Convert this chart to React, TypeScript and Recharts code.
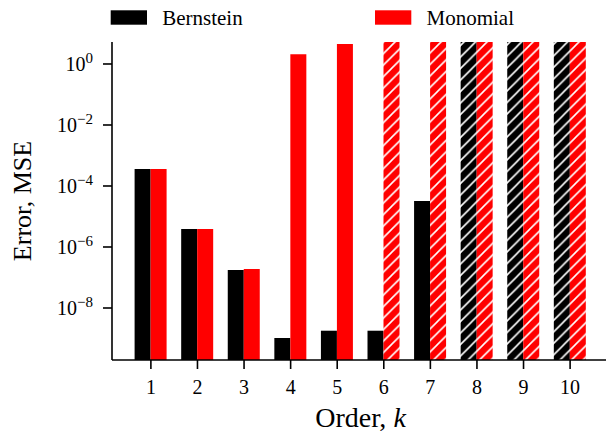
import React from 'react';
import { BarChart, Bar, XAxis, YAxis, Cell, Legend } from 'recharts';

// polynomial order k
const orders = ['1', '2', '3', '4', '5', '6', '7', '8', '9', '10'];
// MSE per basis; values above the top of the plot are drawn hatched (off scale)
const bernsteinMse = [3.6e-4, 3.9e-6, 1.76e-7, 1.04e-9, 1.8e-9, 1.8e-9, 3.2e-5, 1e2, 1e2, 1e2];
const monomialMse = [3.6e-4, 3.9e-6, 1.9e-7, 2.1, 4.5, 1e2, 1e2, 1e2, 1e2, 1e2];
const yTicks = [1, 1e-2, 1e-4, 1e-6, 1e-8];

const yMin = Math.pow(10, -9.705);
const yMax = Math.pow(10, 0.721);

const data = orders.map((k, i) => ({ k, bernstein: bernsteinMse[i], monomial: monomialMse[i] }));

const FONT = '"Liberation Serif", "Times New Roman", serif';

function YTick({ x, y, payload }: any) {
  const exp = Math.round(Math.log10(payload.value));
  const sup = exp < 0 ? '\u2212' + Math.abs(exp) : String(exp);
  return (
    <text x={x} y={y} dx={-8} dy={7.5} textAnchor="end" fontSize={20} fill="#000" fontFamily={FONT}>
      10<tspan dy={-8} fontSize={15}>{sup}</tspan>
    </text>
  );
}

function XTick({ x, y, payload }: any) {
  return (
    <text x={x} y={y} dy={23} textAnchor="middle" fontSize={20} fill="#000" fontFamily={FONT}>
      {payload.value}
    </text>
  );
}

function XLabel({ viewBox }: any) {
  return (
    <text x={viewBox.x + viewBox.width / 2} y={viewBox.y + 67} textAnchor="middle" fontSize={28} fill="#000" fontFamily={FONT}>
      Order, <tspan fontStyle="italic">k</tspan>
    </text>
  );
}

function YLabel({ viewBox }: any) {
  const cx = viewBox.x + 31;
  const cy = viewBox.y + viewBox.height / 2;
  return (
    <text x={cx} y={cy} transform={`rotate(-90, ${cx}, ${cy})`} textAnchor="middle" fontSize={26} fill="#000" fontFamily={FONT}>
      Error, MSE
    </text>
  );
}

function TopLegend({ payload }: any) {
  const xs = [110.7, 375];
  return (
    <svg width={620} height={42} style={{ display: 'block' }}>
      {(payload || []).map((p: any, i: number) => (
        <g key={p.value}>
          <rect x={xs[i]} y={10.3} width={36.3} height={14.4} fill={p.color} />
          <text x={xs[i] + 51.5} y={25} fontSize={21} fill="#000" fontFamily={FONT}>{p.value}</text>
        </g>
      ))}
    </svg>
  );
}

export default function App() {
  return (
    <div style={{ position: 'absolute', left: 0, top: 0, width: 606, height: 435, overflow: 'hidden', background: '#fff' }}>
      <BarChart width={620} height={435} data={data} margin={{ top: 0, right: 11, bottom: 0, left: 0 }} barCategoryGap={7} barGap={0}>
        <defs>
          <pattern id="hatch-black" patternUnits="userSpaceOnUse" width={11.5} height={11.5}>
            <rect width={11.5} height={11.5} fill="#000" />
            <path d="M-3,3 L3,-3 M0,11.5 L11.5,0 M8.5,14.5 L14.5,8.5" stroke="#fff" strokeWidth={1.6} />
          </pattern>
          <pattern id="hatch-red" patternUnits="userSpaceOnUse" width={11.5} height={11.5}>
            <rect width={11.5} height={11.5} fill="#ff0000" />
            <path d="M-3,3 L3,-3 M0,11.5 L11.5,0 M8.5,14.5 L14.5,8.5" stroke="#fff" strokeWidth={1.6} />
          </pattern>
        </defs>
        <Legend verticalAlign="top" content={<TopLegend />} wrapperStyle={{ top: 0, left: 0, width: 620, height: 42 }} />
        <XAxis
          dataKey="k"
          padding={{ left: 15.6, right: 15.6 }}
          height={75}
          tickSize={9}
          tick={<XTick />}
          axisLine={{ stroke: '#000', strokeWidth: 1.6 }}
          tickLine={{ stroke: '#000', strokeWidth: 1.6 }}
          label={<XLabel />}
        />
        <XAxis
          xAxisId="top"
          dataKey="k"
          orientation="top"
          height={0}
          tick={false}
          tickLine={false}
          axisLine={{ stroke: '#000', strokeWidth: 1.6 }}
        />
        <YAxis
          scale="log"
          domain={[yMin, yMax]}
          allowDataOverflow
          ticks={yTicks}
          width={112}
          tickSize={9}
          tick={<YTick />}
          axisLine={{ stroke: '#000', strokeWidth: 1.6 }}
          tickLine={{ stroke: '#000', strokeWidth: 1.6 }}
          label={<YLabel />}
        />
        <Bar dataKey="bernstein" name="Bernstein" fill="#000" isAnimationActive={false}>
          {bernsteinMse.map((v, i) => (
            <Cell key={i} fill={v > yMax ? 'url(#hatch-black)' : '#000'} />
          ))}
        </Bar>
        <Bar dataKey="monomial" name="Monomial" fill="#ff0000" isAnimationActive={false}>
          {monomialMse.map((v, i) => (
            <Cell key={i} fill={v > yMax ? 'url(#hatch-red)' : '#ff0000'} />
          ))}
        </Bar>
      </BarChart>
    </div>
  );
}
